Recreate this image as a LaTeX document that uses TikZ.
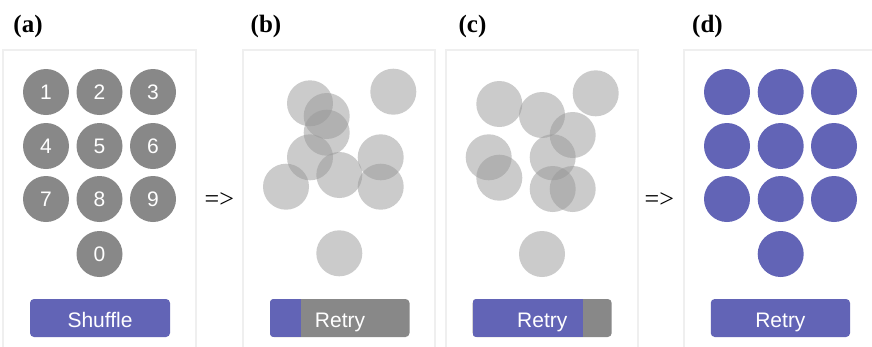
\documentclass[tikz,border=0pt]{standalone}
\usepackage{fontspec}
\setmainfont{Liberation Serif}
\newfontfamily\btnfont{Liberation Sans}
\definecolor{pur}{HTML}{6264B6}
\definecolor{dgray}{HTML}{888888}
\definecolor{ghostc}{HTML}{999999}
\definecolor{frm}{HTML}{EFEFEF}
\tikzset{
  panel/.style={draw=frm, line width=2.5pt},
  disc/.style={circle, minimum size=46pt, inner sep=0pt},
  key/.style={disc, fill=dgray, text=white, font=\btnfont\fontsize{21}{21}\selectfont},
  ghost/.style={disc, fill=ghostc, fill opacity=0.5},
  done/.style={disc, fill=pur},
  btnbox/.style={rectangle, rounded corners=4pt, minimum height=38pt, inner sep=0pt},
  btntext/.style={anchor=base, text=white, inner sep=0pt, font=\btnfont\fontsize{21}{21}\selectfont},
  plabel/.style={anchor=base, inner sep=0pt, font=\bfseries\fontsize{25}{25}\selectfont},
  implies/.style={inner sep=0pt, font=\fontsize{26}{26}\selectfont}
}
\begin{document}
\begin{tikzpicture}[x=1pt,y=-1pt]
\useasboundingbox (0,0) rectangle (872,346);
\clip (0,0) rectangle (872,346);
\fill[white] (0,0) rectangle (872,346);

% frames
\draw[panel] (3,50) rectangle (196,370);
\draw[panel] (243,50) rectangle (435,370);
\draw[panel] (446,50) rectangle (638,370);
\draw[panel] (684,50) rectangle (877,370);

% labels
\node[plabel] (la) at (28,32) {(a)};
\node[plabel] (lb) at (266,32) {(b)};
\node[plabel] (lc) at (472.5,32) {(c)};
\node[plabel] (ld) at (707.5,32) {(d)};

% arrows
\node[implies] (ar1) at (219.3,200) {=>};
\node[implies] (ar2) at (659.3,200) {=>};

% (a) keypad
\node[key] (k1) at (46,92) {1};
\node[key] (k2) at (99.5,92) {2};
\node[key] (k3) at (153,92) {3};
\node[key] (k4) at (46,146) {4};
\node[key] (k5) at (99.5,146) {5};
\node[key] (k6) at (153,146) {6};
\node[key] (k7) at (46,199) {7};
\node[key] (k8) at (99.5,199) {8};
\node[key] (k9) at (153,199) {9};
\node[key] (k0) at (99.5,254) {0};
\node[btnbox, fill=pur, minimum width=140pt] (shuf) at (100,318) {};
\node[btntext] (shuft) at (100,327) {Shuffle};

% (b) scattered
\node[ghost] (b1) at (310,103.3) {};
\node[ghost] (b2) at (393.3,91.7) {};
\node[ghost] (b3) at (326.7,116) {};
\node[ghost] (b4) at (326.7,132.7) {};
\node[ghost] (b5) at (310,157.3) {};
\node[ghost] (b6) at (380.7,157.3) {};
\node[ghost] (b7) at (286,186.7) {};
\node[ghost] (b8) at (339.3,175) {};
\node[ghost] (b9) at (380.7,186.7) {};
\node[ghost] (b0) at (339.3,253.3) {};
\node[btnbox, fill=dgray, minimum width=139.5pt] (retb) at (339.75,318) {};
\begin{scope}
  \clip[rounded corners=4pt] (retb.south west) rectangle (retb.north east);
  \fill[pur] (retb.south west) rectangle (301,299);
\end{scope}
\node[btntext] (retbt) at (340,327) {Retry};

% (c) scattered
\node[ghost] (c1) at (499.3,104) {};
\node[ghost] (c2) at (595.7,93.3) {};
\node[ghost] (c3) at (542,115) {};
\node[ghost] (c4) at (572.7,135) {};
\node[ghost] (c5) at (488.7,157.3) {};
\node[ghost] (c6) at (552.7,157.3) {};
\node[ghost] (c7) at (499.3,177.7) {};
\node[ghost] (c8) at (552.7,189) {};
\node[ghost] (c9) at (572.7,189) {};
\node[ghost] (c0) at (542,254) {};
\node[btnbox, fill=dgray, minimum width=139pt] (retc) at (542.2,318) {};
\begin{scope}
  \clip[rounded corners=4pt] (retc.south west) rectangle (retc.north east);
  \fill[pur] (retc.south west) rectangle (582.7,299);
\end{scope}
\node[btntext] (retct) at (542.3,327) {Retry};

% (d) done
\node[done] (d1) at (727,92) {};
\node[done] (d2) at (780.7,92) {};
\node[done] (d3) at (834,92) {};
\node[done] (d4) at (727,146) {};
\node[done] (d5) at (780.7,146) {};
\node[done] (d6) at (834,146) {};
\node[done] (d7) at (727,199) {};
\node[done] (d8) at (780.7,199) {};
\node[done] (d9) at (834,199) {};
\node[done] (d0) at (780.7,254) {};
\node[btnbox, fill=pur, minimum width=139.3pt] (retd) at (780.4,318) {};
\node[btntext] (retdt) at (780.4,327) {Retry};
\end{tikzpicture}
\end{document}
